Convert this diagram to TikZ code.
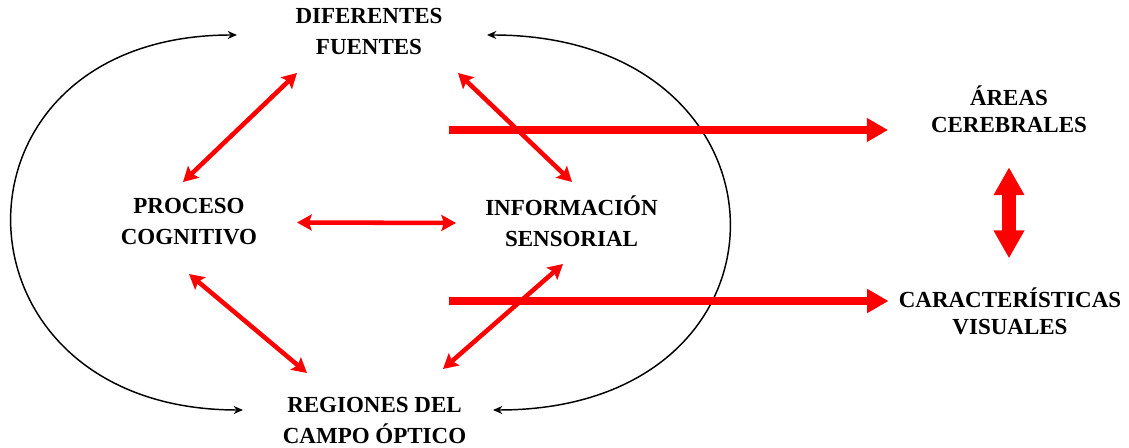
\documentclass[tikz,border=0pt]{standalone}
\usepackage{fontspec}
\setmainfont{Liberation Serif}
\usetikzlibrary{arrows.meta}
\begin{document}
\begin{tikzpicture}[x=0.75pt, y=-0.75pt, line join=round,
	lbl/.style={font=\bfseries\fontsize{17.25}{23.25}\selectfont, align=center, inner sep=0pt},
	side/.style={lbl, font=\bfseries\fontsize{17.25}{20.25}\selectfont},
	rlink/.style={red, line width=3.4pt, {Stealth[length=11pt,width=12pt,inset=2pt]}-{Stealth[length=11pt,width=12pt,inset=2pt]}},
	wide/.style={red, line width=6pt, -{Triangle[length=16pt,width=17pt]}},
	loopline/.style={black, line width=1.1pt, {Stealth[length=7pt,width=6pt]}-{Stealth[length=7pt,width=6pt]}}]
			\useasboundingbox (0,0) rectangle (1129,448);
			\node[lbl] (df) at (369,32) {DIFERENTES\\FUENTES};
			\node[lbl] (pc) at (189,221.5) {PROCESO\\COGNITIVO};
			\node[lbl] (is) at (571.5,221) {INFORMACIÓN\\SENSORIAL};
			\node[lbl] (rc) at (374.5,420.5) {REGIONES DEL\\CAMPO ÓPTICO};
			\node[side] (ac) at (1009,109.5) {ÁREAS\\CEREBRALES};
			\node[side] (cv) at (1010,311.5) {CARACTERÍSTICAS\\VISUALES};
			\coordinate (s1) at (449,130);
			\coordinate (s2) at (449,301);
			% black loops round the left and right
			\draw[loopline] ([shift={(-132,3)}]df.center) to[out=180,in=180,looseness=2.07] ([shift={(-131.5,-10.5)}]rc.center);
			\draw[loopline] ([shift={(118,3)}]df.center) to[out=0,in=0,looseness=2.17] ([shift={(118.5,-10.5)}]rc.center);
			% red links
			\draw[rlink] ([shift={(-72,41)}]df.center) -- ([shift={(-6,-39.5)}]pc.center);
			\draw[rlink] ([shift={(89,41)}]df.center) -- ([shift={(0.5,-39)}]is.center);
			\draw[rlink] ([shift={(108,1)}]pc.center) -- ([shift={(-115.5,2)}]is.center);
			\draw[rlink] ([shift={(0,52.5)}]pc.center) -- ([shift={(-67.5,-47.5)}]rc.center);
			\draw[rlink] ([shift={(-8.5,43)}]is.center) -- ([shift={(68.5,-51.5)}]rc.center);
			\draw[wide, shorten >=32pt] (s1) -- (s1 -| ac.west);
			\draw[wide, shorten >=7.5pt] (s2) -- (s2 -| cv.west);
			\draw[red, line width=11pt, {Triangle[length=21pt,width=21.75pt]}-{Triangle[length=21pt,width=21.75pt]}, shorten <=25.5pt, shorten >=22pt] (ac.south) -- (ac.south |- cv.north);
	\end{tikzpicture}
\end{document}
